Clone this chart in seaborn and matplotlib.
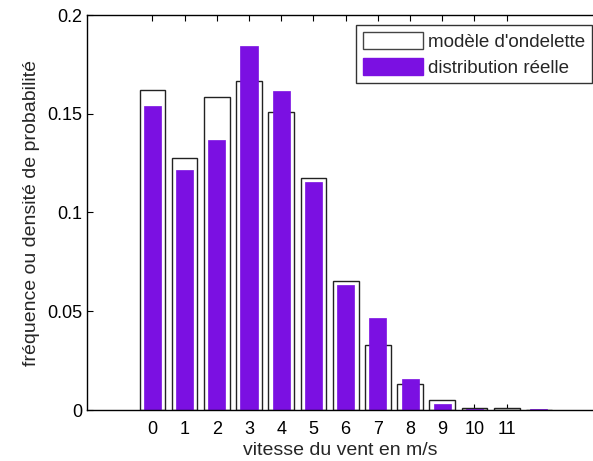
import matplotlib
matplotlib.use("Agg")
import matplotlib.pyplot as plt
import seaborn as sns
import numpy as np
import pandas as pd
from matplotlib.patches import Patch

# Data
speeds = list(range(13))
tick_labels = [str(i) for i in range(12)]
modele = [0.1622, 0.1274, 0.1583, 0.1667, 0.1507, 0.1176, 0.0655, 0.0329, 0.0133, 0.0051, 0.0012, 0.0012, 0.0]
reelle = [0.1539, 0.1215, 0.1367, 0.1843, 0.1615, 0.1154, 0.0633, 0.0468, 0.0157, 0.0030, 0.0007, 0.0002, 0.0007]
yticks = [0, 0.05, 0.1, 0.15, 0.2]
ytick_labels = ["0", "0.05", "0.1", "0.15", "0.2"]

sns.set_style("white")
plt.rcParams['font.family'] = ['Liberation Sans', 'DejaVu Sans']

purple = "#7B10E2"

fig = plt.figure(figsize=(5.93, 4.61), dpi=100)
ax = fig.add_axes([87/593, 51/461, 506/593, 395/461])

df = pd.DataFrame({"v": speeds, "modele": modele, "reelle": reelle})

sns.barplot(data=df, x="v", y="modele", order=speeds, color="white", saturation=1,
            width=0.8, edgecolor="#222222", linewidth=1.0, ax=ax, errorbar=None)
sns.barplot(data=df, x="v", y="reelle", order=speeds, color=purple, saturation=1,
            width=0.53, edgecolor=purple, linewidth=0.5, ax=ax, errorbar=None)

ax.set_xlim(-2.03, 13.68)
ax.set_ylim(0, 0.2)
ax.set_xticks(range(12))
ax.set_xticklabels(tick_labels, fontsize=13)
ax.set_yticks(yticks)
ax.set_yticklabels(ytick_labels, fontsize=13)
ax.set_xlabel("vitesse du vent en m/s", fontsize=14, labelpad=3)
ax.set_ylabel("fréquence ou densité de probabilité", fontsize=14, labelpad=5)

ax.spines["right"].set_visible(False)
for side in ["left", "top", "bottom"]:
    ax.spines[side].set_visible(True)
    ax.spines[side].set_color("black")
    ax.spines[side].set_linewidth(1.0)

ax.tick_params(axis="x", direction="in", length=4, top=True, bottom=True, width=0.8, pad=8, colors="black")
ax.tick_params(axis="y", direction="in", length=4, left=True, right=False, width=0.8, pad=3.5, colors="black")

handles = [Patch(facecolor="white", edgecolor="#444444", linewidth=1.0, label="modèle d'ondelette"),
           Patch(facecolor=purple, edgecolor=purple, label="distribution réelle")]
leg = ax.legend(handles=handles, loc="upper right", bbox_to_anchor=(505/506, 384.5/395),
                fontsize=13.5, frameon=True, fancybox=False, handlelength=3.2, handleheight=1.05,
                borderpad=0.35, labelspacing=0.35, handletextpad=0.3, borderaxespad=0)
leg.get_frame().set_edgecolor("black")
leg.get_frame().set_linewidth(1.0)

fig.savefig("out.png", dpi=100)
